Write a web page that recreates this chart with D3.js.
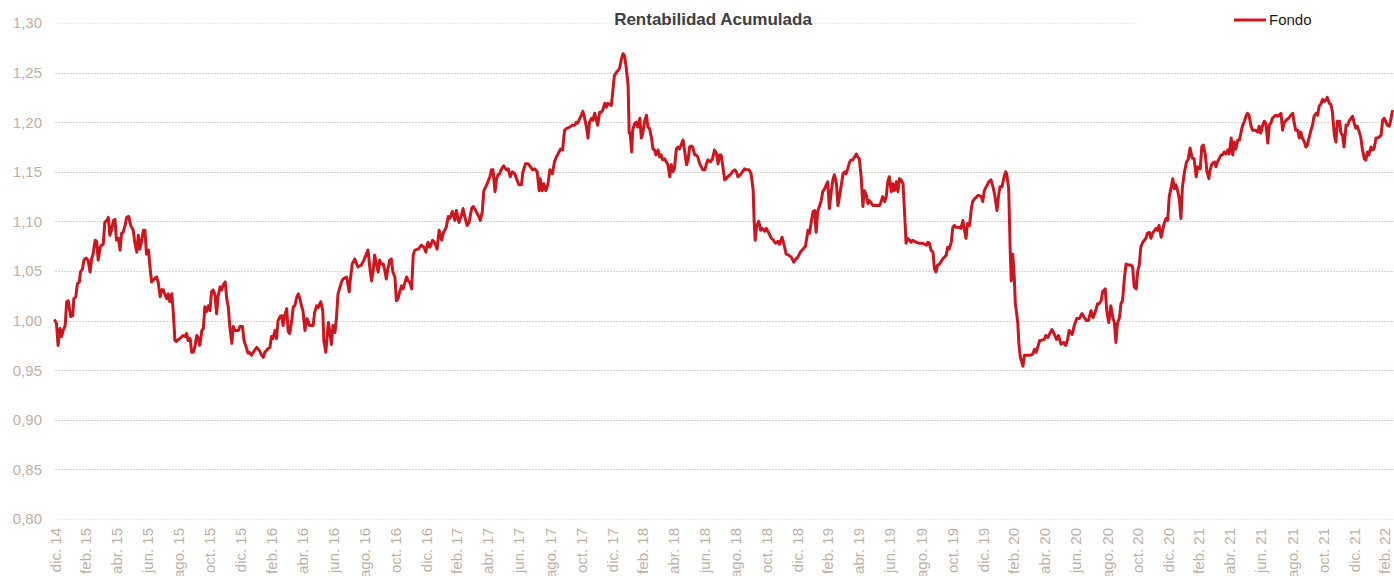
<!DOCTYPE html>
<html lang="es">
<head>
<meta charset="utf-8">
<script src="https://cdn.jsdelivr.net/npm/d3@7"></script>
<style>
  html, body { margin: 0; padding: 0; background: #fff; }
  svg { display: block; font-family: "Liberation Sans", Arial, sans-serif; }
</style>
</head>
<body>
<svg id="chart"></svg>
<script>
// valores (base 1,00 a dic. 14), una linea por mes
const fechas = [
  "2014-12-31",
  "2015-01-03","2015-01-06","2015-01-10","2015-01-13","2015-01-16","2015-01-20","2015-01-23","2015-01-26","2015-01-31",
  "2015-02-04","2015-02-06","2015-02-10","2015-02-13","2015-02-17","2015-02-19","2015-02-23","2015-02-26",
  "2015-03-02","2015-03-06","2015-03-10","2015-03-13","2015-03-16","2015-03-20","2015-03-23","2015-03-26","2015-03-30",
  "2015-04-02","2015-04-05","2015-04-08","2015-04-12","2015-04-15","2015-04-18","2015-04-21","2015-04-25","2015-04-28",
  "2015-05-01","2015-05-05","2015-05-08","2015-05-11","2015-05-14","2015-05-18","2015-05-21","2015-05-25","2015-05-29",
  "2015-06-03","2015-06-06","2015-06-10","2015-06-13","2015-06-16","2015-06-19","2015-06-23","2015-06-26","2015-06-29",
  "2015-07-03","2015-07-06","2015-07-09","2015-07-14","2015-07-19","2015-07-22","2015-07-26","2015-07-29",
  "2015-08-01","2015-08-04","2015-08-08","2015-08-11","2015-08-14","2015-08-18","2015-08-21","2015-08-24","2015-08-27",
  "2015-09-03","2015-09-09","2015-09-13","2015-09-16","2015-09-19","2015-09-23","2015-09-26","2015-09-29",
  "2015-10-02","2015-10-06","2015-10-09","2015-10-12","2015-10-16","2015-10-19","2015-10-22","2015-10-25","2015-10-29",
  "2015-11-01","2015-11-04","2015-11-07","2015-11-11","2015-11-14","2015-11-17","2015-11-21","2015-11-24","2015-11-27",
  "2015-12-01","2015-12-04","2015-12-07","2015-12-10","2015-12-14","2015-12-17","2015-12-20","2015-12-27","2015-12-30",
  "2016-01-04","2016-01-07","2016-01-12","2016-01-15","2016-01-18","2016-01-22","2016-01-25",
  "2016-02-01","2016-02-06","2016-02-11","2016-02-14","2016-02-17","2016-02-24","2016-02-27",
  "2016-03-01","2016-03-04","2016-03-08","2016-03-11","2016-03-14","2016-03-18","2016-03-21","2016-03-24","2016-03-27","2016-03-31",
  "2016-04-03","2016-04-06","2016-04-10","2016-04-13","2016-04-16","2016-04-20","2016-04-23","2016-04-26","2016-04-29",
  "2016-05-02","2016-05-06","2016-05-10","2016-05-15","2016-05-22","2016-05-25","2016-05-29",
  "2016-06-01","2016-06-06","2016-06-10","2016-06-12","2016-06-16","2016-06-21","2016-06-24","2016-06-27","2016-06-30",
  "2016-07-04","2016-07-07","2016-07-10","2016-07-14","2016-07-17","2016-07-20","2016-07-27",
  "2016-08-01","2016-08-03","2016-08-07","2016-08-12","2016-08-18","2016-08-25","2016-08-30",
  "2016-09-03","2016-09-07","2016-09-11","2016-09-14","2016-09-17","2016-09-20","2016-09-24","2016-09-27","2016-09-30",
  "2016-10-03","2016-10-07","2016-10-10","2016-10-13","2016-10-16","2016-10-20","2016-10-23","2016-10-26","2016-10-30",
  "2016-11-02","2016-11-05","2016-11-09","2016-11-12","2016-11-15","2016-11-18","2016-11-22","2016-11-25","2016-11-28",
  "2016-12-02","2016-12-05","2016-12-08","2016-12-15","2016-12-21","2016-12-26","2016-12-30",
  "2017-01-03","2017-01-07","2017-01-12","2017-01-17","2017-01-21","2017-01-25","2017-01-30",
  "2017-02-02","2017-02-05","2017-02-08","2017-02-12","2017-02-15","2017-02-20","2017-02-25","2017-02-28",
  "2017-03-05","2017-03-10","2017-03-13","2017-03-16","2017-03-21","2017-03-25","2017-03-30",
  "2017-04-02","2017-04-07","2017-04-12","2017-04-16","2017-04-20","2017-04-23","2017-04-27",
  "2017-05-01","2017-05-05","2017-05-08","2017-05-11","2017-05-15","2017-05-18","2017-05-21","2017-05-24","2017-05-28",
  "2017-06-01","2017-06-06","2017-06-10","2017-06-14","2017-06-18","2017-06-23","2017-06-27",
  "2017-07-01","2017-07-06","2017-07-09","2017-07-14","2017-07-19","2017-07-24","2017-07-28",
  "2017-08-01","2017-08-06","2017-08-10","2017-08-12","2017-08-16","2017-08-19","2017-08-23","2017-08-27","2017-08-31",
  "2017-09-05","2017-09-09","2017-09-13","2017-09-18","2017-09-21","2017-09-25","2017-09-29",
  "2017-10-04","2017-10-09","2017-10-14","2017-10-19","2017-10-22","2017-10-25","2017-10-29",
  "2017-11-01","2017-11-04","2017-11-07","2017-11-11","2017-11-14","2017-11-17","2017-11-21","2017-11-24","2017-11-27","2017-11-30",
  "2017-12-03","2017-12-07","2017-12-10","2017-12-13","2017-12-17","2017-12-20","2017-12-23","2017-12-30",
  "2018-01-02","2018-01-05","2018-01-10","2018-01-15","2018-01-19","2018-01-22","2018-01-25","2018-01-28",
  "2018-02-01","2018-02-03","2018-02-05","2018-02-08","2018-02-10","2018-02-14","2018-02-17","2018-02-20","2018-02-24","2018-02-27",
  "2018-03-02","2018-03-05","2018-03-09","2018-03-12","2018-03-15","2018-03-19","2018-03-22","2018-03-25","2018-03-28",
  "2018-04-01","2018-04-04","2018-04-07","2018-04-10","2018-04-14","2018-04-17","2018-04-20","2018-04-24","2018-04-27","2018-04-30",
  "2018-05-03","2018-05-07","2018-05-10","2018-05-13","2018-05-17","2018-05-20","2018-05-23","2018-05-27","2018-05-30",
  "2018-06-02","2018-06-05","2018-06-08","2018-06-12","2018-06-15","2018-06-18","2018-06-22","2018-06-25","2018-06-28",
  "2018-07-02","2018-07-05","2018-07-08","2018-07-13","2018-07-17","2018-07-21","2018-07-25","2018-07-28","2018-07-31",
  "2018-08-03","2018-08-06","2018-08-10","2018-08-13","2018-08-16","2018-08-21","2018-08-25","2018-08-30",
  "2018-09-02","2018-09-05","2018-09-10","2018-09-14","2018-09-18","2018-09-22","2018-09-27",
  "2018-10-01","2018-10-05","2018-10-07","2018-10-09","2018-10-12","2018-10-16","2018-10-20","2018-10-23","2018-10-28","2018-10-31",
  "2018-11-05","2018-11-10","2018-11-14","2018-11-18","2018-11-23","2018-11-26",
  "2018-12-01","2018-12-06","2018-12-09","2018-12-14","2018-12-19","2018-12-24","2018-12-28",
  "2019-01-01","2019-01-06","2019-01-11","2019-01-16","2019-01-21","2019-01-24","2019-01-27","2019-01-31",
  "2019-02-03","2019-02-06","2019-02-09","2019-02-13","2019-02-16","2019-02-19","2019-02-23","2019-02-26",
  "2019-03-01","2019-03-04","2019-03-08","2019-03-11","2019-03-14","2019-03-18","2019-03-21","2019-03-24","2019-03-27","2019-03-31",
  "2019-04-03","2019-04-06","2019-04-09","2019-04-13","2019-04-16","2019-04-19","2019-04-23","2019-04-26","2019-04-29",
  "2019-05-02","2019-05-06","2019-05-09","2019-05-12","2019-05-16","2019-05-19","2019-05-22","2019-05-29",
  "2019-06-04","2019-06-11","2019-06-14","2019-06-17","2019-06-21","2019-06-24","2019-06-27","2019-06-30",
  "2019-07-04","2019-07-07","2019-07-10","2019-07-14","2019-07-17","2019-07-20","2019-07-23","2019-07-27","2019-07-30",
  "2019-08-02","2019-08-05","2019-08-09","2019-08-12","2019-08-15","2019-08-22","2019-08-28",
  "2019-09-04","2019-09-11","2019-09-14","2019-09-17","2019-09-20","2019-09-24","2019-09-27","2019-09-30",
  "2019-10-03","2019-10-07","2019-10-13","2019-10-20","2019-10-23","2019-10-26","2019-10-30",
  "2019-11-02","2019-11-05","2019-11-08","2019-11-14","2019-11-18","2019-11-22","2019-11-25","2019-11-28",
  "2019-12-01","2019-12-05","2019-12-08","2019-12-11","2019-12-15","2019-12-18","2019-12-21","2019-12-24","2019-12-28","2019-12-31",
  "2020-01-03","2020-01-07","2020-01-12","2020-01-16","2020-01-20","2020-01-23","2020-01-28","2020-01-31",
  "2020-02-03","2020-02-07","2020-02-10","2020-02-14","2020-02-16","2020-02-20","2020-02-23","2020-02-25","2020-02-28",
  "2020-03-02","2020-03-04","2020-03-06","2020-03-09","2020-03-11","2020-03-14","2020-03-18","2020-03-19","2020-03-22","2020-03-29",
  "2020-04-01","2020-04-07","2020-04-11","2020-04-14","2020-04-17","2020-04-21","2020-04-24","2020-04-30",
  "2020-05-03","2020-05-07","2020-05-10","2020-05-15","2020-05-20","2020-05-24","2020-05-28",
  "2020-06-02","2020-06-07","2020-06-11","2020-06-15","2020-06-18","2020-06-24","2020-06-28",
  "2020-07-03","2020-07-08","2020-07-13","2020-07-18","2020-07-22","2020-07-26","2020-07-31",
  "2020-08-04","2020-08-08","2020-08-13","2020-08-16","2020-08-20","2020-08-23","2020-08-28","2020-08-31",
  "2020-09-04","2020-09-08","2020-09-12","2020-09-15","2020-09-18","2020-09-21","2020-09-25","2020-09-28",
  "2020-10-01","2020-10-05","2020-10-08","2020-10-13","2020-10-18","2020-10-21","2020-10-24","2020-10-28","2020-10-31",
  "2020-11-03","2020-11-06","2020-11-10","2020-11-13","2020-11-16","2020-11-19","2020-11-23","2020-11-26","2020-11-29",
  "2020-12-03","2020-12-06","2020-12-09","2020-12-12","2020-12-16","2020-12-19","2020-12-22","2020-12-26","2020-12-29",
  "2021-01-01","2021-01-05","2021-01-08","2021-01-11","2021-01-14","2021-01-18","2021-01-21","2021-01-24","2021-01-27","2021-01-31",
  "2021-02-04","2021-02-07","2021-02-11","2021-02-15","2021-02-19","2021-02-23","2021-02-26",
  "2021-03-03","2021-03-06","2021-03-09","2021-03-13","2021-03-16","2021-03-20","2021-03-22","2021-03-26","2021-03-31",
  "2021-04-03","2021-04-06","2021-04-09","2021-04-13","2021-04-16","2021-04-19","2021-04-23","2021-04-26","2021-04-29",
  "2021-05-03","2021-05-06","2021-05-09","2021-05-12","2021-05-16","2021-05-19","2021-05-22","2021-05-25","2021-05-29",
  "2021-06-01","2021-06-04","2021-06-07","2021-06-11","2021-06-14","2021-06-19","2021-06-24","2021-06-27","2021-06-30",
  "2021-07-04","2021-07-07","2021-07-10","2021-07-14","2021-07-17","2021-07-20","2021-07-23","2021-07-27","2021-07-30",
  "2021-08-02","2021-08-05","2021-08-09","2021-08-12","2021-08-15","2021-08-19","2021-08-24","2021-08-28",
  "2021-09-01","2021-09-04","2021-09-07","2021-09-11","2021-09-14","2021-09-17","2021-09-20","2021-09-24","2021-09-27","2021-09-30",
  "2021-10-03","2021-10-07","2021-10-10","2021-10-13","2021-10-17","2021-10-20","2021-10-23","2021-10-27","2021-10-30",
  "2021-11-02","2021-11-05","2021-11-08","2021-11-12","2021-11-15","2021-11-18","2021-11-22","2021-11-25","2021-11-28",
  "2021-12-02","2021-12-05","2021-12-08","2021-12-11","2021-12-15","2021-12-18","2021-12-21","2021-12-25","2021-12-28","2021-12-31",
  "2022-01-03","2022-01-06","2022-01-10","2022-01-13","2022-01-16","2022-01-20","2022-01-23","2022-01-26","2022-01-29",
  "2022-02-02","2022-02-05","2022-02-08","2022-02-12","2022-02-15","2022-02-18","2022-02-22","2022-02-25","2022-02-28",
  "2022-03-03","2022-03-06","2022-03-10","2022-03-13","2022-03-16"
];

const fondo = [
  1.000,
  0.997,0.975,0.992,0.984,0.990,0.995,1.019,1.020,1.004,
  1.005,1.022,1.024,1.037,1.039,1.049,1.052,1.061,
  1.063,1.061,1.049,1.062,1.067,1.081,1.080,1.061,1.074,
  1.076,1.077,1.099,1.101,1.104,1.086,1.091,1.101,1.102,
  1.081,1.083,1.071,1.088,1.089,1.096,1.104,1.105,1.096,
  1.091,1.079,1.069,1.086,1.072,1.079,1.091,1.091,1.067,
  1.071,1.054,1.039,1.042,1.044,1.039,1.024,1.031,
  1.031,1.027,1.022,1.027,1.019,1.027,1.007,0.980,0.979,
  0.982,0.985,0.984,0.987,0.980,0.982,0.968,0.968,
  0.973,0.985,0.982,0.975,0.990,0.992,1.014,1.009,1.015,
  1.010,1.029,1.031,1.026,1.007,1.024,1.034,1.031,1.036,
  1.039,1.022,1.014,0.994,0.977,0.994,0.990,0.990,0.994,
  0.994,0.980,0.972,0.967,0.968,0.965,0.968,
  0.973,0.970,0.965,0.963,0.968,0.972,0.973,
  0.984,0.982,0.990,0.982,1.000,1.004,1.005,0.995,1.005,1.012,
  0.989,0.987,1.000,1.014,1.015,1.024,1.027,1.022,1.015,
  1.010,0.990,1.002,0.995,0.995,1.008,1.015,
  1.013,1.019,1.010,0.980,0.968,0.998,0.988,0.976,0.995,
  0.988,1.003,1.027,1.034,1.039,1.042,1.044,
  1.029,1.040,1.057,1.062,1.054,1.056,1.061,
  1.066,1.071,1.052,1.040,1.049,1.066,1.056,1.049,1.061,
  1.057,1.057,1.051,1.042,1.052,1.061,1.062,1.049,1.044,
  1.020,1.022,1.030,1.035,1.032,1.037,1.044,1.040,1.039,
  1.032,1.066,1.071,1.072,1.076,1.074,1.069,
  1.079,1.074,1.081,1.078,1.072,1.091,1.081,
  1.088,1.091,1.094,1.105,1.103,1.110,1.101,1.111,
  1.099,1.106,1.113,1.106,1.096,1.099,1.113,
  1.115,1.111,1.106,1.101,1.110,1.131,1.135,
  1.140,1.145,1.152,1.152,1.130,1.143,1.147,1.148,1.153,
  1.156,1.152,1.153,1.145,1.150,1.148,1.142,
  1.137,1.137,1.150,1.158,1.158,1.155,1.152,
  1.153,1.150,1.131,1.143,1.131,1.138,1.131,1.137,1.152,
  1.148,1.160,1.165,1.170,1.173,1.172,1.192,
  1.194,1.195,1.197,1.197,1.200,1.199,1.204,
  1.207,1.211,1.205,1.195,1.184,1.200,1.204,1.202,1.209,1.204,
  1.197,1.210,1.210,1.212,1.219,1.215,1.219,1.217,
  1.232,1.247,1.251,1.254,1.264,1.269,1.267,1.256,
  1.237,1.189,1.189,1.170,1.192,1.199,1.200,1.195,1.204,1.184,
  1.189,1.200,1.207,1.195,1.194,1.184,1.173,1.172,1.167,
  1.172,1.165,1.167,1.162,1.163,1.160,1.158,1.145,1.157,1.150,
  1.153,1.173,1.175,1.173,1.178,1.182,1.172,1.157,1.162,
  1.175,1.176,1.175,1.167,1.167,1.165,1.158,1.155,1.152,
  1.152,1.158,1.162,1.160,1.163,1.172,1.168,1.158,1.167,
  1.167,1.157,1.142,1.143,1.145,1.147,1.150,1.152,
  1.150,1.145,1.147,1.150,1.153,1.152,1.152,
  1.148,1.132,1.101,1.081,1.095,1.100,1.091,1.093,1.090,1.093,
  1.088,1.083,1.081,1.078,1.080,1.077,
  1.084,1.074,1.067,1.066,1.064,1.059,1.062,
  1.064,1.069,1.072,1.075,1.091,1.088,1.098,1.110,
  1.111,1.089,1.110,1.116,1.121,1.130,1.133,1.137,
  1.140,1.113,1.131,1.142,1.147,1.138,1.116,1.125,1.135,1.148,
  1.150,1.148,1.153,1.160,1.162,1.162,1.165,1.168,1.165,
  1.163,1.143,1.115,1.131,1.126,1.118,1.121,1.116,
  1.116,1.116,1.120,1.125,1.120,1.125,1.140,1.145,
  1.130,1.138,1.131,1.140,1.130,1.143,1.142,1.138,1.110,
  1.078,1.083,1.081,1.079,1.081,1.079,1.078,
  1.078,1.076,1.079,1.078,1.071,1.069,1.052,1.049,
  1.056,1.057,1.062,1.066,1.074,1.072,1.079,
  1.094,1.096,1.094,1.094,1.093,1.101,1.091,1.083,
  1.098,1.096,1.111,1.120,1.123,1.124,1.126,1.126,1.125,1.120,
  1.131,1.135,1.140,1.142,1.135,1.128,1.111,1.126,
  1.135,1.135,1.143,1.150,1.148,1.133,1.071,1.040,1.067,
  1.044,1.017,1.010,0.997,0.977,0.963,0.956,0.954,0.965,0.965,
  0.965,0.966,0.971,0.968,0.973,0.980,0.980,0.981,
  0.985,0.983,0.986,0.991,0.986,0.981,0.985,
  0.976,0.978,0.975,0.981,0.990,0.986,0.995,
  1.002,1.002,1.007,1.003,1.000,1.000,1.010,
  1.003,1.008,1.017,1.017,1.020,1.029,1.032,1.010,
  0.998,1.015,1.003,0.998,0.978,0.997,1.003,1.017,
  1.020,1.044,1.057,1.056,1.056,1.054,1.034,1.032,1.050,
  1.056,1.074,1.079,1.081,1.083,1.088,1.089,1.083,1.088,
  1.091,1.093,1.091,1.096,1.084,1.091,1.098,1.103,1.101,
  1.125,1.135,1.143,1.133,1.137,1.130,1.122,1.103,1.135,1.150,
  1.160,1.162,1.174,1.164,1.163,1.145,1.155,
  1.153,1.175,1.177,1.167,1.151,1.143,1.151,1.158,1.160,
  1.155,1.160,1.163,1.167,1.167,1.170,1.168,1.172,1.168,
  1.184,1.167,1.180,1.173,1.182,1.182,1.189,1.196,1.201,
  1.206,1.209,1.207,1.196,1.192,1.192,1.190,1.196,1.189,
  1.197,1.201,1.199,1.179,1.197,1.199,1.204,1.206,1.207,
  1.206,1.207,1.209,1.192,1.199,1.202,1.204,1.207,
  1.209,1.199,1.192,1.192,1.184,1.190,1.184,1.180,1.175,1.177,
  1.184,1.192,1.197,1.206,1.209,1.207,1.216,1.219,1.223,
  1.221,1.222,1.225,1.219,1.218,1.211,1.187,1.180,1.201,
  1.201,1.189,1.187,1.175,1.197,1.197,1.201,1.204,1.206,1.199,
  1.194,1.196,1.190,1.185,1.173,1.163,1.162,1.170,1.167,
  1.175,1.172,1.173,1.184,1.184,1.185,1.187,1.202,1.204,
  1.201,1.197,1.196,1.202,1.211
];

const yTicks = [0.80, 0.85, 0.90, 0.95, 1.00, 1.05, 1.10, 1.15, 1.20, 1.25, 1.30];
const mesesCortos = ["ene.", "feb.", "mar.", "abr.", "may.", "jun.", "jul.", "ago.", "sept.", "oct.", "nov.", "dic."];
const titulo = "Rentabilidad Acumulada";
const serieNombre = "Fondo";

const width = 1394, height = 576;
const margin = { top: 23, right: 1, bottom: 57, left: 55 };
const rojo = "#d0141c";
const gris = "#bdb1a4";

const es = d3.formatLocale({ decimal: ",", thousands: ".", grouping: [3], currency: ["", " €"] });
const locale = d3.timeFormatLocale({
  dateTime: "%A, %e de %B de %Y, %X", date: "%d/%m/%Y", time: "%H:%M:%S",
  periods: ["AM", "PM"],
  days: ["domingo", "lunes", "martes", "miércoles", "jueves", "viernes", "sábado"],
  shortDays: ["dom", "lun", "mar", "mié", "jue", "vie", "sáb"],
  months: ["enero", "febrero", "marzo", "abril", "mayo", "junio", "julio", "agosto", "septiembre", "octubre", "noviembre", "diciembre"],
  shortMonths: mesesCortos
});
const fmtMes = locale.format("%b %y");
const fmtY = es.format(".2f");

const parse = d3.timeParse("%Y-%m-%d");
const data = fechas.map((f, i) => ({ fecha: parse(f), valor: fondo[i] }))
  .filter(d => d.valor != null);

const svg = d3.select("#chart")
  .attr("width", width)
  .attr("height", height);

const x = d3.scaleTime()
  .domain(d3.extent(data, d => d.fecha))
  .range([margin.left, width - margin.right - 0.7]);

const y = d3.scaleLinear()
  .domain([0.80, 1.30])
  .range([height - margin.bottom, margin.top]);

// ticks: fin de mes, cada dos meses
const xTicks = d3.timeMonth.range(new Date(2015, 0, 1), new Date(2022, 2, 2), 2)
  .map(d => d3.timeDay.offset(d, -1));

// --- rejilla ---
svg.append("g")
  .selectAll("line")
  .data(yTicks)
  .join("line")
  .attr("x1", margin.left)
  .attr("x2", d => d === 1.30 ? 1138 : width)
  .attr("y1", d => Math.round(y(d)) + 0.5)
  .attr("y2", d => Math.round(y(d)) + 0.5)
  .attr("stroke", d => (d === 1.30 || d === 0.80) ? "#efece8" : "#d8d2ca")
  .attr("stroke-dasharray", "2,1")
  .attr("stroke-width", 1);

// --- eje Y ---
const yAxis = svg.append("g")
  .attr("transform", `translate(${margin.left},0)`)
  .call(d3.axisLeft(y).tickValues(yTicks).tickFormat(fmtY).tickSize(0).tickPadding(13));
yAxis.select(".domain").remove();
yAxis.selectAll("text")
  .attr("fill", gris)
  .style("font-size", "15px")
  .style("font-family", "'Liberation Sans', Arial, sans-serif");

// --- eje X ---
const xAxis = svg.append("g")
  .attr("transform", `translate(0,${height - margin.bottom})`)
  .call(d3.axisBottom(x).tickValues(xTicks).tickFormat(fmtMes).tickSize(0));
xAxis.select(".domain").remove();
xAxis.selectAll("text")
  .attr("fill", gris)
  .style("font-size", "15px")
  .style("font-family", "'Liberation Sans', Arial, sans-serif")
  .attr("text-anchor", "end")
  .attr("transform", "rotate(-90)")
  .attr("x", -9)
  .attr("y", 0)
  .attr("dy", "0.35em");

// --- serie ---
const line = d3.line()
  .x(d => x(d.fecha))
  .y(d => y(d.valor));

svg.append("path")
  .datum(data)
  .attr("fill", "none")
  .attr("stroke", rojo)
  .attr("stroke-width", 3)
  .attr("stroke-linejoin", "round")
  .attr("stroke-linecap", "round")
  .attr("d", line);

// --- titulo ---
svg.append("text")
  .attr("x", 713)
  .attr("y", 25)
  .attr("text-anchor", "middle")
  .attr("fill", "#3b4046")
  .style("font-size", "17px")
  .style("font-weight", "bold")
  .text(titulo);

// --- leyenda ---
const leg = svg.append("g").attr("transform", "translate(1234,20)");
leg.append("line")
  .attr("x1", 0).attr("x2", 32)
  .attr("stroke", rojo)
  .attr("stroke-width", 3);
leg.append("text")
  .attr("x", 35)
  .attr("dy", "0.35em")
  .attr("fill", "#1a1a1a")
  .style("font-size", "15px")
  .text(serieNombre);
</script>
</body>
</html>
